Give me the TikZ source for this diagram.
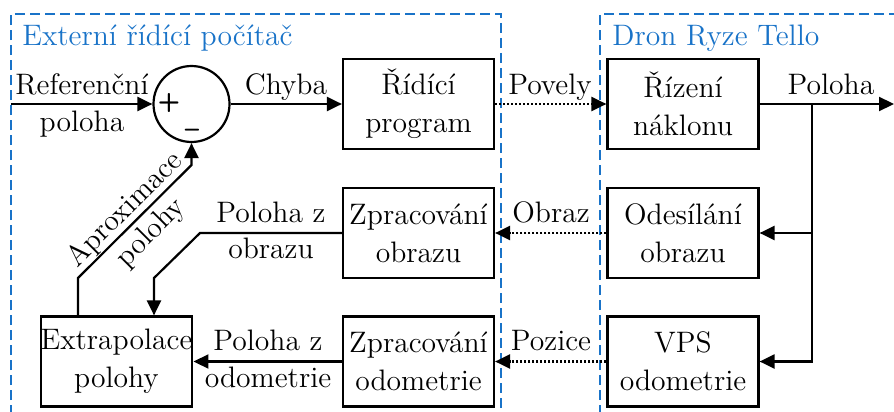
\documentclass[tikz,border=0pt]{standalone}
\usetikzlibrary{arrows.meta,calc}
\definecolor{grpblue}{RGB}{25,115,200}
\begin{document}
\begin{tikzpicture}[x=0.5pt,y=-0.5pt,
  every node/.style={font=\fontsize{14.8}{19}\selectfont},
  blk/.style={draw,line width=1.1pt,minimum width=75.5pt,minimum height=45pt,inner sep=0pt,align=center},
  sumc/.style={draw,circle,line width=1.1pt,minimum size=38pt,inner sep=0pt},
  arr/.style={line width=1.1pt,-{Triangle[length=7.5pt,width=7pt]}},
  dotarr/.style={line width=1.1pt,dash pattern=on 1pt off 1pt,-{Triangle[length=7.5pt,width=7pt]}},
  grp/.style={draw=grpblue,line width=1pt,dash pattern=on 5pt off 2.5pt},
  grptitle/.style={text=grpblue,anchor=base west,inner sep=0pt},
  lbl/.style={anchor=base,inner sep=0pt},
  sgn/.style={font=\fontsize{13}{15}\selectfont\sffamily\bfseries,inner sep=0pt}
]
\useasboundingbox (0,0) rectangle (894,412);
% groups
\draw[grp] (11,430) -- (11,14) -- (501,14) -- (501,430);
\draw[grp] (600,430) -- (600,14) -- (910,14);
\node[grptitle] (t1) at (22,45) {Externí řídící počítač};
\node[grptitle] (t2) at (612,45) {Dron Ryze Tello};
% blocks
\node[sumc] (sum) at (191.5,104) {};
\node[sgn] (plus) at (169,103) {+};
\node[sgn] (minus) at (192,133) {\textendash};
\node[blk] (prog) at (418.5,104) {Řídící\\program};
\node[blk] (tilt) at (683,104) {Řízení\\náklonu};
\node[blk] (imgp) at (418.5,233) {Zpracování\\obrazu};
\node[blk] (send) at (683,233) {Odesílání\\obrazu};
\node[blk] (odop) at (418.5,361.5) {Zpracování\\odometrie};
\node[blk] (vps) at (683,361.5) {VPS\\odometrie};
\node[blk] (extra) at (116.5,361.5) {Extrapolace\\polohy};
% coordinates
\coordinate (in) at (11,104);
\coordinate (out) at (894,104);
\coordinate (br) at (812,104);
\coordinate (ap1) at (78,278);
\coordinate (ap2) at (191.5,165);
\coordinate (po1) at (200,233);
\coordinate (po2) at (154,278);
% connectors
\draw[arr] (in) -- (sum.west);
\draw[arr] (sum.east) -- (prog.west);
\draw[dotarr] (prog.east) -- (tilt.west);
\draw[arr] (tilt.east) -- (out);
\draw[arr] (br) |- (send.east);
\draw[arr] (br) |- (vps.east);
\draw[dotarr] (send.west) -- (imgp.east);
\draw[dotarr] (vps.west) -- (odop.east);
\draw[arr] (odop.west) -- (extra.east);
\draw[arr] (imgp.west) -- (po1) -- (po2) -- (po2 |- extra.north);
\draw[arr] (ap1 |- extra.north) -- (ap1) -- (ap2) -- (sum.south);
% labels
\node[lbl] (l1) at (82,94) {Referenční};
\node[lbl] (l2) at (82,131) {poloha};
\node[lbl] (l3) at (286,94) {Chyba};
\node[lbl] (l4) at (550,94) {Povely};
\node[lbl] (l5) at (831,94) {Poloha};
\node[lbl] (l6) at (551,222) {Obraz};
\node[lbl] (l7) at (551,350) {Pozice};
\node[lbl] (l8) at (271,222) {Poloha z};
\node[lbl] (l9) at (271,258) {obrazu};
\node[lbl] (l10) at (268,350) {Poloha z};
\node[lbl] (l11) at (268,387) {odometrie};
\node[rotate=45,inner sep=0pt] (l12) at (125,210) {Aproximace};
\node[rotate=45,inner sep=0pt] (l13) at (151,233) {polohy};
\end{tikzpicture}
\end{document}
